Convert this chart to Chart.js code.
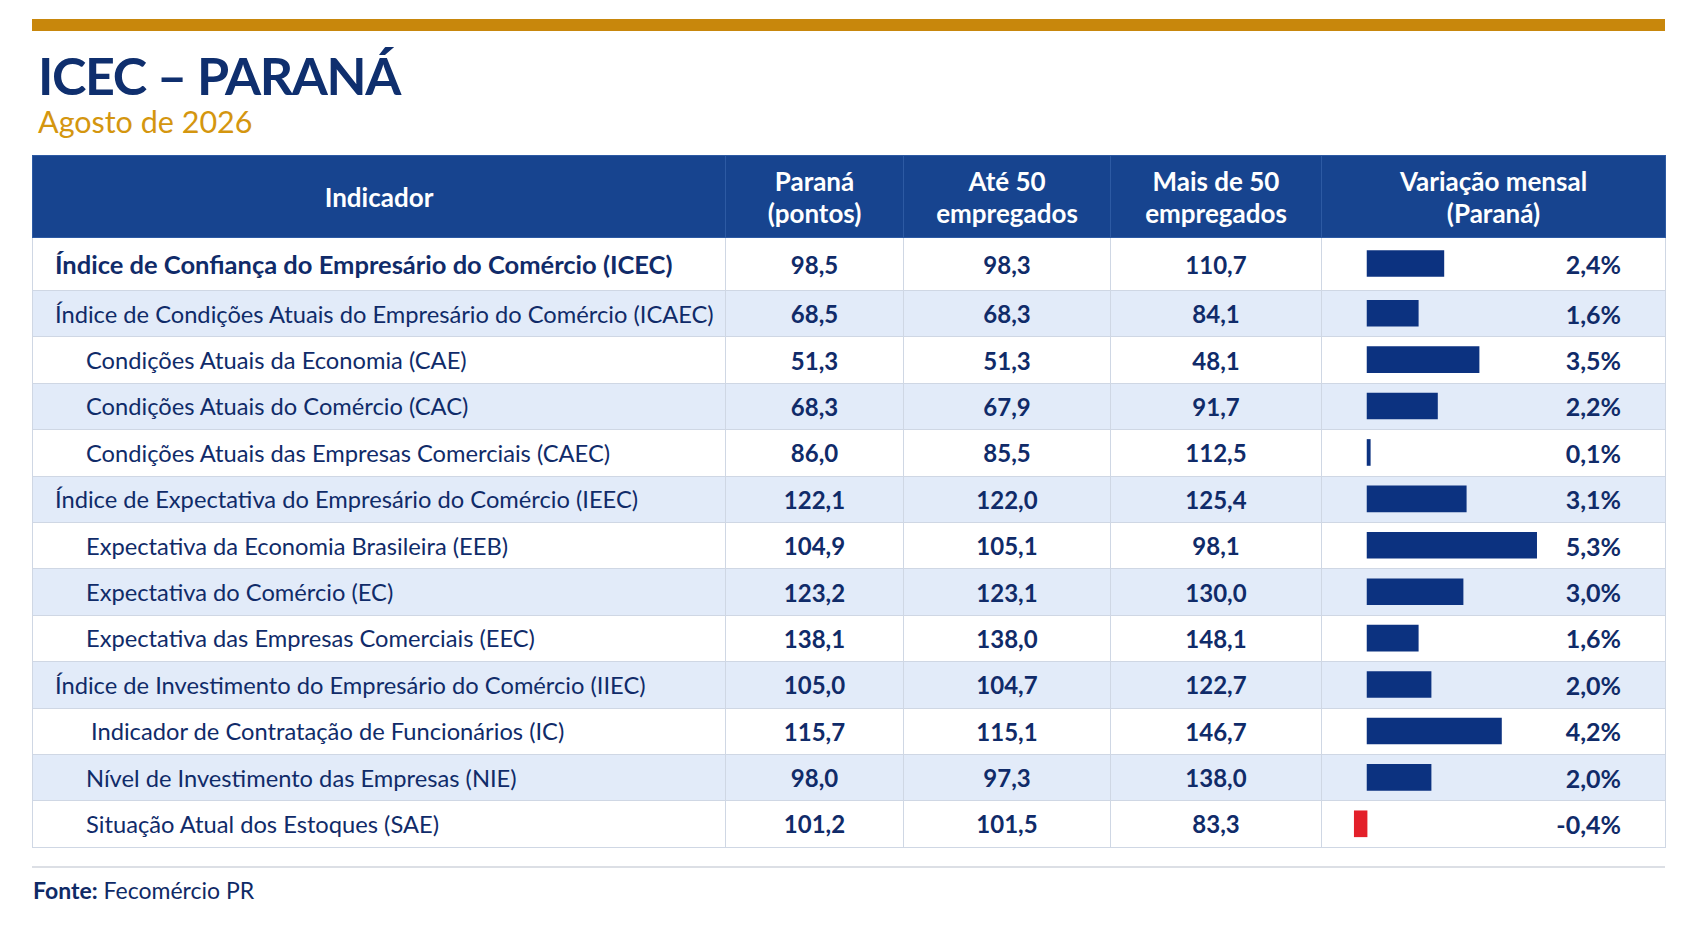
<!DOCTYPE html>
<html lang="pt-BR">
<head>
<meta charset="utf-8">
<title>ICEC - Paraná</title>
<script src="https://cdn.jsdelivr.net/npm/chart.js@4.4.1/dist/chart.umd.min.js"></script>
<style>
  html, body { margin: 0; padding: 0; background: #fff; }
  body { width: 1694px; height: 929px; position: relative; overflow: hidden; font-family: Lato, "Open Sans", sans-serif; color: #102b69; }
  #topbar { position: absolute; left: 32px; top: 19px; width: 1633px; height: 12px; background: #c8870c; }
  #title { position: absolute; left: 38px; top: 49px; font-size: 52px; line-height: 52px; letter-spacing: -1.4px; font-weight: 700; color: #0f2f6e; margin: 0; }
  #subtitle { position: absolute; left: 38px; top: 106px; font-size: 30.5px; line-height: 30px; color: #d4960f; margin: 0; }
  #tbl { position: absolute; left: 32px; top: 155px; width: 1633px; border-collapse: collapse; table-layout: fixed; }
  #tbl th { background: #17448f; color: #fff; font-weight: 700; font-size: 26px; line-height: 32px; height: 81px; padding: 0; border: 1px solid #2d5aa3; text-align: center; }
  #tbl td { padding: 0; border: 1px solid #cfd7e4; font-size: 24px; text-align: center; font-weight: 700; }
  #tbl tr.first td { height: 52px; }
  #tbl tr.other td { height: 45.4px; }
  #tbl tbody tr:nth-child(even) td { background: #e2ebf9; }
  #tbl td.name { text-align: left; font-weight: 400; font-size: 23.7px; padding-left: 22px; }
  #tbl td.name.lvl2 { padding-left: 53px; }
  #tbl td.name.lvl3 { padding-left: 58px; }
  #tbl td.name.top { font-weight: 700; font-size: 25.5px; }
  #tbl td.pct { text-align: right; padding-right: 44px; font-size: 25px; }
  .barwrap { position: absolute; left: 1321px; width: 343px; pointer-events: none; }
  #footline { position: absolute; left: 32px; top: 866px; width: 1633px; height: 2px; background: #dcdfe5; }
  #fonte { position: absolute; left: 33px; top: 879px; font-size: 23px; line-height: 23px; color: #0f2a66; }
</style>
</head>
<body>
<div id="topbar"></div>
<h1 id="title">ICEC – PARANÁ</h1>
<div id="subtitle">Agosto de 2026</div>

<table id="tbl">
  <colgroup>
    <col style="width:693px"><col style="width:178px"><col style="width:207px"><col style="width:211px"><col style="width:344px">
  </colgroup>
  <thead>
    <tr>
      <th>Indicador</th>
      <th>Paraná<br>(pontos)</th>
      <th>Até 50<br>empregados</th>
      <th>Mais de 50<br>empregados</th>
      <th>Variação mensal<br>(Paraná)</th>
    </tr>
  </thead>
  <tbody id="rows"></tbody>
</table>

<div class="barwrap" style="top:237px;height:53px"><canvas id="barsTop" width="343" height="53"></canvas></div>
<div class="barwrap" style="top:290px;height:557px"><canvas id="barsRest" width="343" height="557"></canvas></div>

<div id="footline"></div>
<div id="fonte"><b>Fonte:</b> Fecomércio PR</div>

<script>
// indicadores (linhas da tabela)
var indicadores = [
  "Índice de Confiança do Empresário do Comércio (ICEC)",
  "Índice de Condições Atuais do Empresário do Comércio (ICAEC)",
  "Condições Atuais da Economia (CAE)",
  "Condições Atuais do Comércio (CAC)",
  "Condições Atuais das Empresas Comerciais (CAEC)",
  "Índice de Expectativa do Empresário do Comércio (IEEC)",
  "Expectativa da Economia Brasileira (EEB)",
  "Expectativa do Comércio (EC)",
  "Expectativa das Empresas Comerciais (EEC)",
  "Índice de Investimento do Empresário do Comércio (IIEC)",
  "Indicador de Contratação de Funcionários (IC)",
  "Nível de Investimento das Empresas (NIE)",
  "Situação Atual dos Estoques (SAE)"
];
// nivel de recuo: 0 = indice geral, 1 = indice, 2 = componente (3 = componente um pouco mais recuado)
var niveis = [0, 1, 2, 2, 2, 1, 2, 2, 2, 1, 3, 2, 2];

var parana  = [98.5, 68.5, 51.3, 68.3, 86.0, 122.1, 104.9, 123.2, 138.1, 105.0, 115.7, 98.0, 101.2];
var ate50   = [98.3, 68.3, 51.3, 67.9, 85.5, 122.0, 105.1, 123.1, 138.0, 104.7, 115.1, 97.3, 101.5];
var mais50  = [110.7, 84.1, 48.1, 91.7, 112.5, 125.4, 98.1, 130.0, 148.1, 122.7, 146.7, 138.0, 83.3];
var variacao = [2.4, 1.6, 3.5, 2.2, 0.1, 3.1, 5.3, 3.0, 1.6, 2.0, 4.2, 2.0, -0.4];

function fmt(v) {
  return v.toFixed(1).replace(".", ",");
}

// monta as linhas da tabela
function buildRows() {
  var tbody = document.getElementById("rows");
  for (var i = 0; i < indicadores.length; i++) {
    var tr = document.createElement("tr");
    tr.className = i == 0 ? "first" : "other";
    var cls = "name";
    if (niveis[i] == 0) cls += " top";
    if (niveis[i] == 2) cls += " lvl2";
    if (niveis[i] == 3) cls += " lvl3";
    tr.innerHTML =
      '<td class="' + cls + '"></td>' +
      "<td>" + fmt(parana[i]) + "</td>" +
      "<td>" + fmt(ate50[i]) + "</td>" +
      "<td>" + fmt(mais50[i]) + "</td>" +
      '<td class="pct">' + fmt(variacao[i]) + "%</td>";
    tr.firstChild.textContent = indicadores[i];
    tbody.appendChild(tr);
  }
}

// barras da variacao mensal (a primeira linha e mais alta, por isso dois graficos com a mesma escala)
function makeBars(id, labels, values) {
  var ctx = document.getElementById(id).getContext("2d");
  var cores = values.map(function(v) { return v < 0 ? "#e3202a" : "#0c3280"; });
  return new Chart(ctx, {
    type: "bar",
    data: {
      labels: labels,
      datasets: [{
        data: values,
        backgroundColor: cores,
        borderWidth: 0,
        barThickness: 26
      }]
    },
    options: {
      indexAxis: "y",
      responsive: false,
      animation: false,
      events: [],
      layout: { padding: 0 },
      plugins: { legend: { display: false }, tooltip: { enabled: false } },
      scales: {
        x: { type: "linear", min: -1.44, max: 9.28, display: false },
        y: { display: false, offset: true }
      }
    }
  });
}

buildRows();
makeBars("barsTop", indicadores.slice(0, 1), variacao.slice(0, 1));
makeBars("barsRest", indicadores.slice(1), variacao.slice(1));
</script>
</body>
</html>
